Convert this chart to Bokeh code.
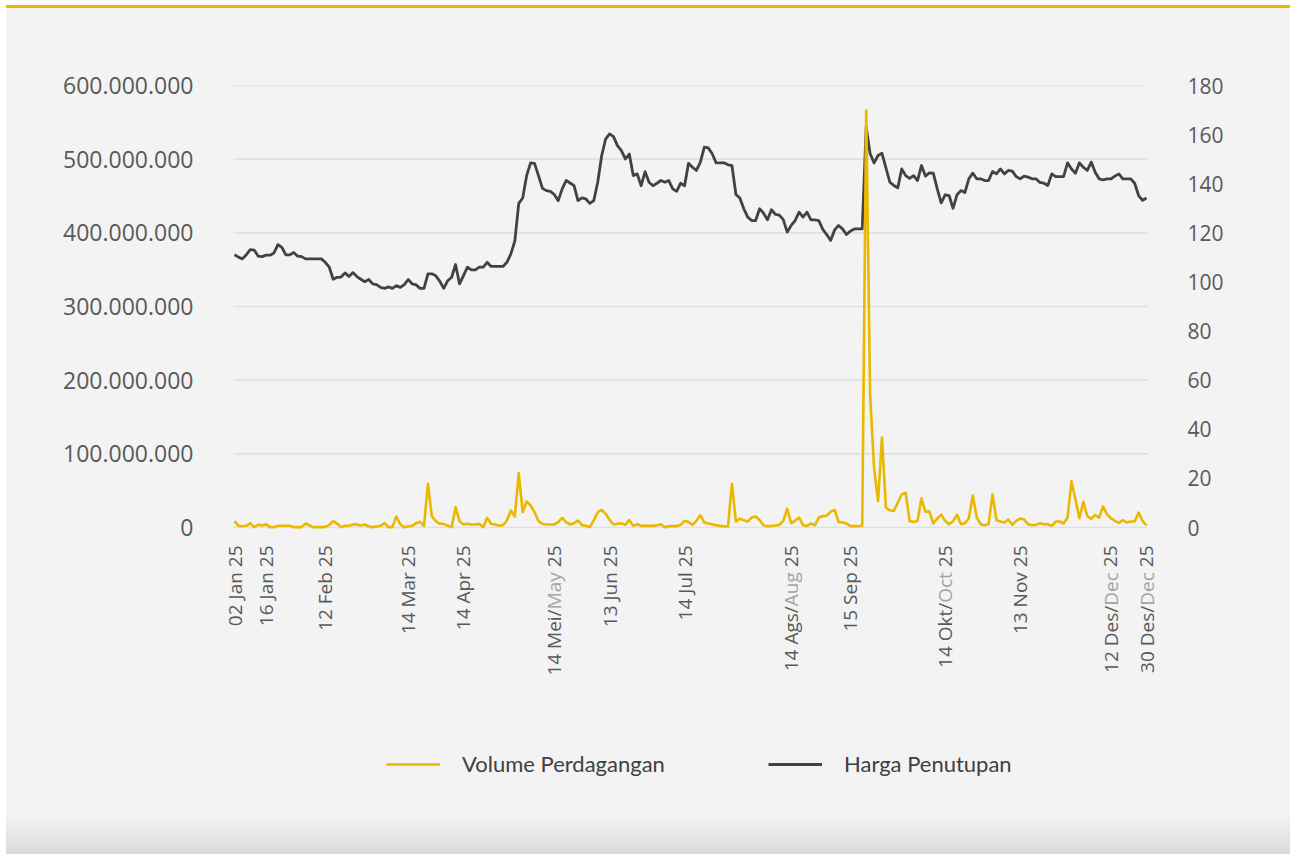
import math
from bokeh.plotting import figure
from bokeh.models import (Range1d, LinearAxis, FixedTicker, Legend, LegendItem,
                          Div, ColumnDataSource)
from bokeh.layouts import column
from bokeh.core.properties import value
from bokeh.embed import file_html
from bokeh.resources import INLINE

# ---------------- data ----------------
price = [
    111.1, 110.1, 109.4, 111.1, 113.2, 113.0, 110.5, 110.3, 110.9, 110.9,
    111.8, 115.2, 114.1, 111.0, 111.0, 112.0, 110.5, 110.3, 109.4, 109.4,
    109.4, 109.4, 109.4, 108.0, 106.0, 101.1, 101.9, 102.0, 103.7, 102.2,
    103.8, 102.2, 101.1, 100.1, 101.0, 99.2, 98.9, 97.8, 97.4, 98.0,
    97.4, 98.5, 97.8, 98.9, 101.0, 99.2, 98.8, 97.4, 97.4, 103.3,
    103.3, 102.5, 100.3, 97.4, 100.5, 101.9, 107.1, 99.2, 102.6, 106.0,
    104.9, 104.9, 106.0, 106.0, 108.0, 106.3, 106.3, 106.3, 106.3, 108.0,
    111.4, 116.6, 132.0, 134.2, 143.3, 148.5, 148.3, 143.3, 138.1, 137.2,
    136.9, 135.6, 133.1, 137.9, 141.3, 140.3, 139.2, 133.1, 134.2, 133.8,
    132.0, 133.1, 140.6, 151.4, 158.2, 160.3, 159.2, 155.5, 153.5, 150.1,
    152.1, 143.3, 144.0, 139.2, 144.9, 140.6, 139.2, 140.2, 141.3, 140.6,
    141.3, 137.9, 136.9, 140.2, 139.2, 148.3, 146.7,
    145.4, 148.8, 154.9, 154.6, 152.2, 148.5, 148.5, 148.5, 147.7, 147.4,
    135.6, 134.2, 129.8, 126.4, 125.0, 125.0, 129.8, 128.0, 125.3, 129.4,
    127.5, 127.2, 125.4, 120.3, 123.0, 125.0, 128.4, 126.4, 128.4, 125.3,
    125.3, 125.0, 121.4, 119.3, 116.9, 121.2, 123.0, 121.6, 119.3, 120.7,
    121.6, 121.6, 121.6, 163.0, 152.2, 148.5, 151.5, 152.4, 146.5, 140.6,
    139.3, 138.3, 146.0, 143.3, 142.2, 143.3, 141.3, 147.4, 143.1, 144.4,
    144.3, 137.9, 132.2, 135.5, 135.2, 130.0, 135.5, 137.2, 136.4, 142.0,
    144.3, 142.0, 142.0, 141.3, 141.3, 145.0, 144.0, 146.0, 144.0, 145.4,
    145.1, 142.9, 142.0, 143.1, 142.7, 142.0, 142.0, 140.5, 140.2, 139.3,
    144.0, 142.9, 142.9, 142.9, 148.5, 146.0, 144.3, 148.5, 146.7, 145.4,
    148.8, 144.7, 142.0, 141.6, 142.0, 142.0, 143.1, 144.0, 142.0, 142.0,
    142.0, 140.2, 135.2, 133.2, 134.2,
]

volume_millions = [
    8.6, 2.3, 1.8, 2.3, 5.9, 0.5, 4.1, 2.7, 4.5, 0.5,
    0.5, 2.3, 2.3, 2.3, 2.3, 0.5, 0.5, 0.5, 5.4, 2.7,
    0.5, 0.5, 0.5, 0.9, 3.5, 8.6, 5.4, 0.5, 2.3, 2.3,
    4.1, 4.1, 2.7, 4.1, 1.4, 0.5, 1.4, 2.3, 5.9, 0.5,
    0.5, 14.9, 4.1, 0.5, 1.4, 2.3, 5.9, 7.7, 2.3, 59.3,
    14.9, 8.6, 5.0, 5.0, 2.3, 0.5, 27.6, 8.6, 4.1, 5.0,
    4.1, 4.1, 5.0, 0.5, 13.1, 5.0, 4.1, 2.3, 3.2, 9.5,
    23.1, 14.9, 73.8, 20.8, 35.3, 29.9, 20.8, 8.6, 5.0, 4.1,
    4.1, 4.1, 7.2, 13.1, 7.2, 4.1, 5.9, 9.5, 3.2, 2.3,
    0.5, 9.5, 20.8, 24.0, 18.6, 10.4, 4.1, 5.0, 5.8, 3.6,
    10.3, 2.2, 4.5, 2.2, 2.2, 2.2, 2.2, 3.1, 4.5, 0.5,
    1.8, 1.8, 1.8, 3.6, 9.0, 7.6, 3.6, 9.0, 16.6, 6.7,
    5.4, 4.5, 3.1, 2.2, 1.8, 1.3, 59.2, 8.1, 12.1, 9.9,
    8.1, 13.5, 14.8, 10.3, 3.1, 1.8, 2.2, 2.7, 3.6, 9.0,
    25.6, 5.8, 9.0, 13.5, 3.1, 2.2, 5.4, 3.1, 13.5, 15.7,
    15.7, 21.5, 23.8, 7.6, 7.2, 5.4, 1.8, 1.8, 1.8, 2.7,
    566.0, 180.0, 80.7, 35.9, 122.0, 26.9, 23.3, 22.4, 33.6, 44.8,
    47.1, 9.0, 7.6, 9.0, 39.5, 21.5, 21.5, 5.4, 12.1, 17.5,
    9.0, 4.5, 8.5, 17.5, 4.5, 5.8, 12.6, 43.5, 13.5, 4.5,
    3.1, 4.5, 44.8, 9.9, 8.1, 6.7, 10.8, 3.6, 9.0, 12.1,
    10.8, 4.5, 3.1, 3.6, 5.8, 4.5, 4.5, 2.2, 8.1, 8.1,
    5.4, 13.5, 62.8, 38.1, 12.6, 35.0, 15.7, 11.7, 17.0, 13.5,
    28.7, 17.9, 12.6, 9.0, 6.3, 9.9, 6.7, 8.1, 8.1, 20.2,
    9.0, 2.7,
]
volume = [v * 1e6 for v in volume_millions]
days = list(range(len(price)))

left_ticks = [0, 100000000, 200000000, 300000000, 400000000, 500000000, 600000000]
left_tick_labels = ["0", "100.000.000", "200.000.000", "300.000.000",
                    "400.000.000", "500.000.000", "600.000.000"]
right_ticks = [0, 20, 40, 60, 80, 100, 120, 140, 160, 180]

x_tick_idx = [0, 8, 23, 44, 58, 81, 95, 114, 141, 156, 180, 199, 222, 231]
x_tick_labels = ["02 Jan 25", "16 Jan 25", "12 Feb 25", "14 Mar 25", "14 Apr 25",
                 "14 Mei/May 25", "13 Jun 25", "14 Jul 25", "14 Ags/Aug 25",
                 "15 Sep 25", "14 Okt/Oct 25", "13 Nov 25", "12 Des/Dec 25",
                 "30 Des/Dec 25"]

series_names = ["Volume Perdagangan", "Harga Penutupan"]

# ---------------- style / geometry ----------------
BG = "#F2F3F2"
YELLOW = "#EBB800"
DARK_LINE = "#454141"
TXT = "#595959"
TXT_LIGHT = "#A3A3A3"
GRID = "#E0E0E0"

W, H = 1284, 808
SIDE_PAD = 15                      # frame extends this far beyond the data
B_LEFT, B_RIGHT, B_TOP, B_BOTTOM = 212, 128, 77, 5
frame_w = W - B_LEFT - B_RIGHT
frame_h = H - B_TOP - B_BOTTOM
zero_px = 442                      # pixel height of the 0..max band
vol_max = 600e6
pr_max = 180
extra = frame_h - zero_px
vol_start = -vol_max * extra / zero_px
pr_start = -pr_max * extra / zero_px
data_per_px = vol_max / zero_px

n = len(price)
data_px = frame_w - 2 * SIDE_PAD - 2
ppu = data_px / (n - 1)
x_start = -(SIDE_PAD + 1) / ppu
x_end = (n - 1) + (SIDE_PAD + 1) / ppu

p = figure(width=W, height=H, output_backend="svg", toolbar_location=None,
           x_range=Range1d(x_start, x_end),
           y_range=Range1d(vol_start, vol_max),
           x_axis_location=None,
           min_border_left=B_LEFT, min_border_right=B_RIGHT,
           min_border_top=B_TOP, min_border_bottom=B_BOTTOM,
           background_fill_color=None, border_fill_color=None,
           outline_line_color=None)
p.styles = {"background-color": BG}
p.extra_y_ranges = {"price": Range1d(pr_start, pr_max)}

lax = p.yaxis[0]
lax.ticker = FixedTicker(ticks=left_ticks)
lax.major_label_overrides = {t: s for t, s in zip(left_ticks, left_tick_labels)}
lax.major_label_text_font_size = "23px"

rax = LinearAxis(y_range_name="price", ticker=FixedTicker(ticks=right_ticks))
rax.major_label_text_font_size = "21px"
p.add_layout(rax, "right")

for ax in (lax, rax):
    ax.axis_line_color = None
    ax.major_tick_line_color = None
    ax.minor_tick_line_color = None
    ax.major_tick_out = 0
    ax.major_tick_in = 0
    ax.minor_tick_out = 0
    ax.major_label_standoff = 40 - SIDE_PAD
    ax.major_label_text_font = "Open Sans"
    ax.major_label_text_color = TXT

# horizontal gridlines spanning only the data width
p.xgrid.visible = False
p.ygrid.visible = False
gx0 = -1 / ppu
gx1 = (n - 1) + 1 / ppu
p.segment(x0=[gx0] * len(left_ticks), x1=[gx1] * len(left_ticks),
          y0=left_ticks, y1=left_ticks, line_color=GRID, line_width=1.6)

# lines
pr_r = p.line(days, price, y_range_name="price", line_color=DARK_LINE,
              line_width=2.8, line_join="round")
vol_r = p.line(days, volume, line_color=YELLOW, line_width=2.6, line_join="round")

# x tick labels (two-tone where bilingual)
FS = 19
EM = {' ': 0.26, '/': 0.367, 'M': 0.905, 'a': 0.556, 'y': 0.5, 'A': 0.633,
      'u': 0.614, 'g': 0.547, 'O': 0.781, 'c': 0.476, 't': 0.351, 'D': 0.734,
      'e': 0.561, 'i': 0.253, 'k': 0.525, 's': 0.477}
def text_w(s):
    return sum(EM.get(ch, 0.572) for ch in s) * FS

y_top = -18 * data_per_px
lx, ly, lt, lc = [], [], [], []
for idx, lab in zip(x_tick_idx, x_tick_labels):
    if "/" in lab:
        pre, rest = lab.split("/", 1)
        gray, tail = rest.split(" ", 1)
        pieces = [(pre + "/", TXT, 0.0), (gray, TXT_LIGHT, text_w(" ")), (tail, TXT, 0.0)]
    else:
        pieces = [(lab, TXT, 0.0)]
    off = 0.0
    for txt, col, gap in reversed(pieces):
        off += gap
        lx.append(days[idx])
        ly.append(y_top - off * data_per_px)
        lt.append(txt)
        lc.append(col)
        off += text_w(txt)
src = ColumnDataSource(dict(x=lx, y=ly, text=lt, color=lc))
p.text(x="x", y="y", text="text", text_color="color", source=src,
       angle=math.pi / 2, text_align="right", text_baseline="middle",
       text_font=value("Open Sans"), text_font_size=f"{FS}px")

# legends (one per item, placed below the x labels)
for name, rend, xloc in [(series_names[0], vol_r, 168), (series_names[1], pr_r, 550)]:
    lg = Legend(items=[LegendItem(label=name, renderers=[rend])],
                location=(xloc, 34), orientation="horizontal",
                glyph_width=54, glyph_height=20, label_standoff=22,
                padding=0, margin=0, border_line_color=None,
                background_fill_alpha=0,
                label_text_font="Lato", label_text_font_size="22px",
                label_text_color="#404040")
    p.add_layout(lg)

top_bar = Div(width=W, height=3, margin=0,
              styles={"background-color": "#EEB500"})
bottom_fade = Div(width=W, height=38, margin=0,
                  styles={"background": f"linear-gradient({BG}, #D9DAD9)"})
layout = column(top_bar, p, bottom_fade, spacing=0, margin=(5, 0, 0, 6))

open("out.html", "w").write(file_html(layout, INLINE))
